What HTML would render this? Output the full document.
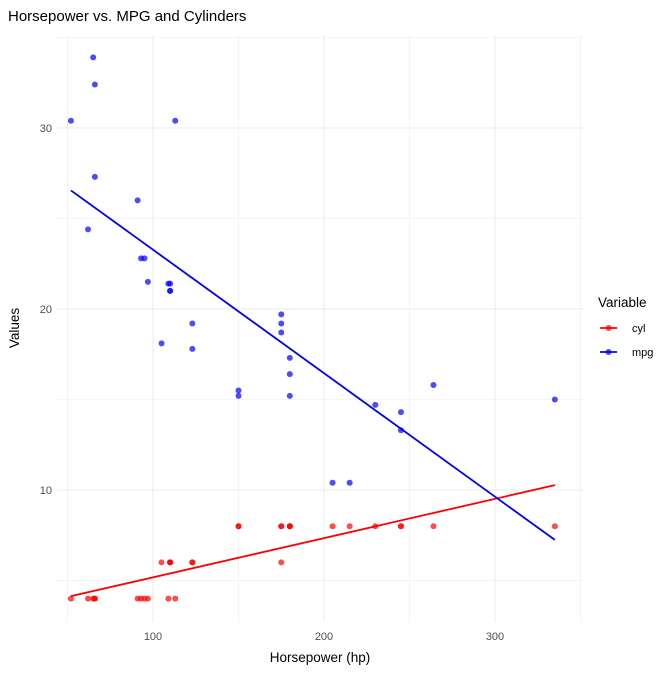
<!DOCTYPE html>
<html><head><meta charset="utf-8"><style>
body{margin:0;background:#fff;font-family:"Liberation Sans",Arial,sans-serif;}
</style></head><body>
<svg id="chart" width="672" height="671" xmlns="http://www.w3.org/2000/svg"></svg>
<script>
const hp  = [110,110,93,110,175,105,245,62,95,123,123,180,180,180,205,215,230,66,52,65,97,150,150,245,175,66,91,113,264,175,335,109];
const mpg = [21,21,22.8,21.4,18.7,18.1,14.3,24.4,22.8,19.2,17.8,16.4,17.3,15.2,10.4,10.4,14.7,32.4,30.4,33.9,21.5,15.5,15.2,13.3,19.2,27.3,26,30.4,15.8,19.7,15,21.4];
const cyl = [6,6,4,6,8,6,8,4,4,6,6,8,8,8,8,8,8,4,4,4,4,8,8,8,8,4,4,4,8,6,8,4];
const xTicks = [100,200,300];
const yTicks = [10,20,30];

const svg = document.getElementById('chart');
const NS = 'http://www.w3.org/2000/svg';
const X = v => 153 + (v - 100) * 1.71;
const Y = v => 490 - (v - 10) * 18.1;
function mk(tag, attrs, parent){ const e=document.createElementNS(NS,tag); for(const k in attrs) e.setAttribute(k,attrs[k]); (parent||svg).appendChild(e); return e; }

const grid = mk('g',{});


[50,100,150,200,250,300,350].forEach(v=>{
  mk('line',{x1:X(v),x2:X(v),y1:35,y2:622,stroke:'#ebebeb','stroke-width':v%100===0?1:0.6},grid);
});
[5,10,15,20,25,30,35].forEach(v=>{
  mk('line',{x1:57,x2:583,y1:Y(v),y2:Y(v),stroke:'#ebebeb','stroke-width':v%10===0?1:0.6},grid);
});

xTicks.forEach(v=>{
  const t=mk('text',{x:X(v),y:640,'text-anchor':'middle','font-size':11,fill:'#4d4d4d'});
  
  
  t.textContent=v;
});
yTicks.forEach(v=>{
  const t=mk('text',{x:52,y:Y(v)+4,'text-anchor':'end','font-size':11,fill:'#4d4d4d'});
  
  
  t.textContent=v;
});

function fit(xs, ys){
  const n=xs.length; const mx=xs.reduce((a,b)=>a+b)/n; const my=ys.reduce((a,b)=>a+b)/n;
  let sxy=0,sxx=0; for(let i=0;i<n;i++){sxy+=(xs[i]-mx)*(ys[i]-my); sxx+=(xs[i]-mx)**2;}
  const b=sxy/sxx; return [my-b*mx,b];
}
const xmin=Math.min(...hp), xmax=Math.max(...hp);
[[cyl,'red','cyl'],[mpg,'blue','mpg']].forEach(([ys,col,name])=>{
  const g=mk('g',{});
  
  
  hp.forEach((h,i)=>{
    const c=mk('circle',{cx:X(h),cy:Y(ys[i]),r:3,fill:col,'fill-opacity':0.7},g);
    
    
  });
  const [a,b]=fit(hp,ys);
  const l=mk('line',{x1:X(xmin),y1:Y(a+b*xmin),x2:X(xmax),y2:Y(a+b*xmax),stroke:col,'stroke-width':1.8},g);
  
  
});

let t=mk('text',{x:8,y:21,'font-size':15,fill:'#000'});


t.textContent='Horsepower vs. MPG and Cylinders';
t=mk('text',{x:320,y:662,'text-anchor':'middle','font-size':13.5,fill:'#000'});


t.textContent='Horsepower (hp)';
t=mk('text',{x:0,y:0,'text-anchor':'middle','font-size':13.5,fill:'#000',transform:'translate(19,328) rotate(-90)'});


t.textContent='Values';

t=mk('text',{x:598,y:307,'font-size':13.5,fill:'#000'});


t.textContent='Variable';
[['cyl','red',328],['mpg','blue',352]].forEach(([n,c,y])=>{
  const g=mk('g',{});
  
  
  mk('line',{x1:600,x2:617,y1:y,y2:y,stroke:c,'stroke-width':1.8},g);
  mk('circle',{cx:608.5,cy:y,r:3,fill:c,'fill-opacity':0.7},g);
  const tx=mk('text',{x:632,y:y+4,'font-size':11,fill:'#000'},g);
  tx.textContent=n;
});
</script>
</body></html>
